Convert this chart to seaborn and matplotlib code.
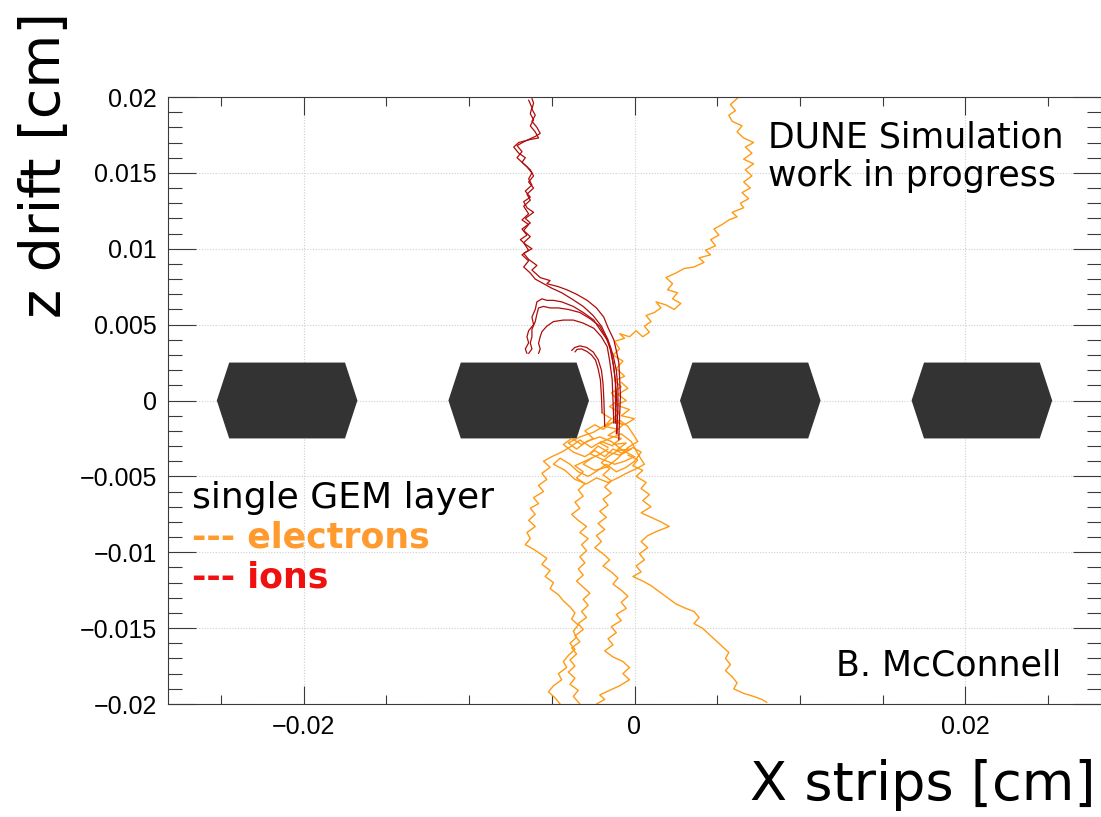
import numpy as np
import pandas as pd
import matplotlib
matplotlib.use("Agg")
import matplotlib.pyplot as plt
import seaborn as sns

# ---------------- data ----------------
X_LIM = (-0.0282, 0.0282)
Y_LIM = (-0.02, 0.02)
X_LABEL_TICKS = [-0.02, 0.0, 0.02]
X_LABELS = ["\u22120.02", "0", "0.02"]
Y_LABEL_TICKS = [-0.02, -0.015, -0.01, -0.005, 0.0, 0.005, 0.01, 0.015, 0.02]
Y_LABELS = ["\u22120.02", "\u22120.015", "\u22120.01", "\u22120.005", "0",
            "0.005", "0.01", "0.015", "0.02"]

# GEM copper/kapton cross-sections (cm)
GEM_CENTERS = [-0.021, -0.007, 0.007, 0.021]
GEM_HALF_TOP = 0.0035
GEM_HALF_MID = 0.00425
GEM_HALF_THICK = 0.0025

# electron drift paths (x, z) in cm
ELECTRON_UP = [(-0.0011, -0.0020), (-0.0007, -0.0016), (-0.0013, -0.0012), (-0.0009, -0.0008),
               (-0.0015, -0.0004), (-0.0010, 0.0000), (-0.0014, 0.0005), (-0.0008, 0.0009),
               (-0.0012, 0.0013), (-0.0006, 0.0016), (-0.0011, 0.0021), (-0.0007, 0.0026),
               (-0.0013, 0.0030), (-0.0009, 0.0034), (-0.0012, 0.0039), (-0.0006, 0.0041),
               (-0.0009, 0.0044), (-0.0003, 0.0042), (0.0001, 0.0046), (0.0005, 0.0042),
               (0.0009, 0.0045), (0.0006, 0.0049), (0.0010, 0.0052), (0.0007, 0.0056),
               (0.0012, 0.0058), (0.0016, 0.0061), (0.0013, 0.0065), (0.0019, 0.0063),
               (0.0024, 0.0060), (0.0028, 0.0064), (0.0023, 0.0067), (0.0026, 0.0071),
               (0.0020, 0.0073), (0.0023, 0.0077), (0.0019, 0.0081), (0.0025, 0.0084),
               (0.0030, 0.0087), (0.0036, 0.0088), (0.0042, 0.0091), (0.0039, 0.0094),
               (0.0046, 0.0096), (0.0043, 0.0099), (0.0049, 0.0102), (0.0046, 0.0106),
               (0.0051, 0.0109), (0.0048, 0.0113), (0.0053, 0.0116), (0.0057, 0.0119),
               (0.0062, 0.0121), (0.0059, 0.0124), (0.0066, 0.0127), (0.0064, 0.0130),
               (0.0069, 0.0133), (0.0065, 0.0137), (0.0070, 0.0140), (0.0066, 0.0144),
               (0.0071, 0.0148), (0.0067, 0.0152), (0.0072, 0.0156), (0.0066, 0.0159),
               (0.0071, 0.0163), (0.0067, 0.0167), (0.0072, 0.0170), (0.0066, 0.0173),
               (0.0062, 0.0177), (0.0065, 0.0181), (0.0059, 0.0184), (0.0057, 0.0188),
               (0.0061, 0.0191), (0.0058, 0.0195), (0.0063, 0.0200)]

ELECTRON_LEFT = [(-0.0013, -0.0030), (-0.0020, -0.0027), (-0.0026, -0.0031), (-0.0033, -0.0026),
                 (-0.0038, -0.0030), (-0.0044, -0.0034), (-0.0050, -0.0037), (-0.0055, -0.0040),
                 (-0.0051, -0.0044), (-0.0056, -0.0048), (-0.0053, -0.0052), (-0.0058, -0.0056),
                 (-0.0055, -0.0060), (-0.0061, -0.0064), (-0.0058, -0.0068), (-0.0063, -0.0071),
                 (-0.0060, -0.0075), (-0.0064, -0.0079), (-0.0060, -0.0083), (-0.0065, -0.0087),
                 (-0.0063, -0.0091), (-0.0066, -0.0095), (-0.0061, -0.0098), (-0.0057, -0.0101),
                 (-0.0053, -0.0104), (-0.0056, -0.0108), (-0.0051, -0.0112), (-0.0054, -0.0116),
                 (-0.0049, -0.0120), (-0.0051, -0.0124), (-0.0046, -0.0128), (-0.0043, -0.0132),
                 (-0.0039, -0.0136), (-0.0036, -0.0140), (-0.0038, -0.0144), (-0.0034, -0.0148),
                 (-0.0037, -0.0152), (-0.0035, -0.0156), (-0.0039, -0.0160), (-0.0036, -0.0164),
                 (-0.0040, -0.0168), (-0.0043, -0.0172), (-0.0041, -0.0176), (-0.0046, -0.0180),
                 (-0.0044, -0.0184), (-0.0049, -0.0188), (-0.0052, -0.0192), (-0.0048, -0.0196),
                 (-0.0045, -0.0200)]

ELECTRON_MIDLEFT = [(-0.0016, -0.0032), (-0.0022, -0.0036), (-0.0030, -0.0040), (-0.0036, -0.0043),
                    (-0.0031, -0.0047), (-0.0035, -0.0051), (-0.0030, -0.0055), (-0.0034, -0.0059),
                    (-0.0031, -0.0063), (-0.0036, -0.0067), (-0.0033, -0.0071), (-0.0038, -0.0075),
                    (-0.0034, -0.0079), (-0.0029, -0.0083), (-0.0033, -0.0087), (-0.0028, -0.0091),
                    (-0.0032, -0.0095), (-0.0029, -0.0099), (-0.0033, -0.0103), (-0.0030, -0.0107),
                    (-0.0034, -0.0111), (-0.0031, -0.0115), (-0.0035, -0.0119), (-0.0031, -0.0123),
                    (-0.0027, -0.0127), (-0.0031, -0.0131), (-0.0028, -0.0135), (-0.0032, -0.0139),
                    (-0.0029, -0.0143), (-0.0034, -0.0147), (-0.0031, -0.0151), (-0.0036, -0.0155),
                    (-0.0033, -0.0159), (-0.0038, -0.0163), (-0.0035, -0.0167), (-0.0039, -0.0171),
                    (-0.0036, -0.0175), (-0.0040, -0.0179), (-0.0036, -0.0183), (-0.0039, -0.0187),
                    (-0.0034, -0.0191), (-0.0037, -0.0195), (-0.0033, -0.0200)]

ELECTRON_MIDRIGHT = [(-0.0010, -0.0033), (-0.0016, -0.0037), (-0.0020, -0.0041), (-0.0015, -0.0045),
                     (-0.0019, -0.0049), (-0.0014, -0.0053), (-0.0018, -0.0057), (-0.0014, -0.0061),
                     (-0.0019, -0.0065), (-0.0016, -0.0069), (-0.0021, -0.0073), (-0.0017, -0.0077),
                     (-0.0022, -0.0081), (-0.0018, -0.0085), (-0.0023, -0.0089), (-0.0020, -0.0093),
                     (-0.0024, -0.0097), (-0.0019, -0.0101), (-0.0015, -0.0105), (-0.0019, -0.0109),
                     (-0.0014, -0.0113), (-0.0010, -0.0117), (-0.0013, -0.0121), (-0.0008, -0.0125),
                     (-0.0004, -0.0129), (-0.0008, -0.0133), (-0.0005, -0.0137), (-0.0011, -0.0141),
                     (-0.0008, -0.0145), (-0.0014, -0.0149), (-0.0011, -0.0153), (-0.0016, -0.0157),
                     (-0.0013, -0.0161), (-0.0018, -0.0165), (-0.0013, -0.0169), (-0.0007, -0.0172),
                     (-0.0003, -0.0176), (-0.0007, -0.0180), (-0.0003, -0.0184), (-0.0009, -0.0188),
                     (-0.0015, -0.0191), (-0.0021, -0.0194), (-0.0018, -0.0197), (-0.0023, -0.0200)]

ELECTRON_RIGHT = [(-0.0004, -0.0036), (0.0002, -0.0039), (-0.0001, -0.0043), (0.0005, -0.0046),
                  (0.0001, -0.0050), (0.0007, -0.0054), (0.0004, -0.0058), (0.0009, -0.0062),
                  (0.0005, -0.0066), (0.0010, -0.0070), (0.0004, -0.0074), (0.0010, -0.0077),
                  (0.0016, -0.0080), (0.0021, -0.0083), (0.0014, -0.0086), (0.0008, -0.0089),
                  (0.0004, -0.0093), (0.0008, -0.0097), (0.0003, -0.0101), (0.0006, -0.0105),
                  (0.0001, -0.0109), (0.0004, -0.0113), (-0.0001, -0.0116), (0.0005, -0.0119),
                  (0.0010, -0.0122), (0.0015, -0.0126), (0.0020, -0.0130), (0.0025, -0.0134),
                  (0.0031, -0.0137), (0.0036, -0.0139), (0.0039, -0.0143), (0.0036, -0.0147),
                  (0.0041, -0.0150), (0.0045, -0.0154), (0.0049, -0.0158), (0.0053, -0.0162),
                  (0.0057, -0.0166), (0.0055, -0.0170), (0.0058, -0.0174), (0.0055, -0.0178),
                  (0.0059, -0.0182), (0.0062, -0.0186), (0.0060, -0.0190), (0.0066, -0.0193),
                  (0.0072, -0.0195), (0.0077, -0.0197), (0.0080, -0.0199)]

ELECTRON_CLUSTER = [(-0.0020, -0.0008), (-0.0014, -0.0012), (-0.0018, -0.0017), (-0.0010, -0.0019),
                    (-0.0016, -0.0023), (-0.0008, -0.0025), (-0.0013, -0.0029), (-0.0005, -0.0028),
                    (-0.0011, -0.0033), (-0.0002, -0.0032), (-0.0009, -0.0036), (-0.0016, -0.0034),
                    (-0.0022, -0.0030), (-0.0027, -0.0035), (-0.0019, -0.0039), (-0.0012, -0.0042),
                    (-0.0006, -0.0040), (0.0000, -0.0037), (-0.0007, -0.0033), (-0.0014, -0.0027),
                    (-0.0021, -0.0024), (-0.0029, -0.0027), (-0.0035, -0.0032), (-0.0040, -0.0028),
                    (-0.0033, -0.0024), (-0.0025, -0.0021), (-0.0017, -0.0016), (-0.0009, -0.0013),
                    (-0.0004, -0.0017), (-0.0001, -0.0022), (0.0002, -0.0027), (-0.0004, -0.0031),
                    (-0.0010, -0.0038), (-0.0017, -0.0044), (-0.0024, -0.0046), (-0.0031, -0.0042),
                    (-0.0026, -0.0038)]

ELECTRON_CLUSTER_2 = [(-0.0008, 0.0012), (-0.0004, 0.0008), (-0.0010, 0.0004), (-0.0005, 0.0000),
                      (-0.0011, -0.0003), (-0.0003, -0.0006), (-0.0008, -0.0010), (0.0000, -0.0012),
                      (-0.0006, -0.0016), (-0.0013, -0.0014), (-0.0019, -0.0019), (-0.0024, -0.0016),
                      (-0.0030, -0.0020), (-0.0025, -0.0025), (-0.0032, -0.0029), (-0.0038, -0.0025),
                      (-0.0043, -0.0029), (-0.0037, -0.0034), (-0.0030, -0.0037), (-0.0024, -0.0033),
                      (-0.0018, -0.0037), (-0.0013, -0.0032), (-0.0007, -0.0035), (-0.0001, -0.0031),
                      (0.0004, -0.0034), (0.0000, -0.0040), (-0.0005, -0.0044), (-0.0011, -0.0047),
                      (-0.0017, -0.0042), (-0.0022, -0.0046), (-0.0028, -0.0050), (-0.0034, -0.0047),
                      (-0.0039, -0.0042), (-0.0045, -0.0038), (-0.0049, -0.0042), (-0.0042, -0.0046),
                      (-0.0036, -0.0052), (-0.0029, -0.0055), (-0.0023, -0.0051), (-0.0016, -0.0054),
                      (-0.0010, -0.0051), (-0.0005, -0.0048), (0.0001, -0.0045), (0.0006, -0.0042),
                      (0.0003, -0.0037), (-0.0002, -0.0027), (-0.0008, -0.0022), (-0.0015, -0.0025),
                      (-0.0021, -0.0028), (-0.0016, -0.0031)]

# ion drift paths (x, z) in cm
ION_LONG_A = [(-0.00095, -0.0026), (-0.0009, -0.0010), (-0.00085, 0.0003), (-0.0009, 0.0015),
              (-0.00095, 0.0025), (-0.0011, 0.0033), (-0.00125, 0.0040), (-0.0016, 0.0048),
              (-0.00186, 0.0055), (-0.0023, 0.0061), (-0.00286, 0.0066), (-0.0035, 0.0070),
              (-0.0041, 0.0073), (-0.0046, 0.0075), (-0.0053, 0.0077), (-0.0051, 0.0079),
              (-0.0057, 0.0081), (-0.0062, 0.0086), (-0.0059, 0.0089), (-0.0064, 0.0093),
              (-0.0067, 0.0097), (-0.0062, 0.0100), (-0.0066, 0.0103), (-0.0069, 0.0106),
              (-0.0065, 0.0109), (-0.0068, 0.0113), (-0.0063, 0.0117), (-0.0066, 0.0120),
              (-0.0061, 0.0124), (-0.0065, 0.0127), (-0.0067, 0.0131), (-0.0063, 0.0134),
              (-0.0066, 0.0138), (-0.0062, 0.0142), (-0.0064, 0.0146), (-0.0062, 0.0150),
              (-0.0065, 0.0154), (-0.0068, 0.0157), (-0.0066, 0.0160), (-0.0070, 0.0163),
              (-0.0073, 0.0167), (-0.0070, 0.0170), (-0.0063, 0.0172), (-0.0058, 0.0173),
              (-0.0060, 0.0177), (-0.0063, 0.0181), (-0.0061, 0.0185), (-0.0063, 0.0189),
              (-0.0062, 0.0193), (-0.0064, 0.0198)]

ION_LONG_B = [(-0.0011, -0.0022), (-0.0010, -0.0006), (-0.0010, 0.0008), (-0.0011, 0.0020),
              (-0.0013, 0.0030), (-0.0016, 0.0040), (-0.0020, 0.0049), (-0.0025, 0.0056),
              (-0.0031, 0.0062), (-0.0038, 0.0067), (-0.0044, 0.0071), (-0.0050, 0.0074),
              (-0.0055, 0.0077), (-0.0060, 0.0080), (-0.0063, 0.0084), (-0.0067, 0.0088),
              (-0.0064, 0.0092), (-0.0068, 0.0096), (-0.0064, 0.0099), (-0.0067, 0.0104),
              (-0.0063, 0.0108), (-0.0067, 0.0112), (-0.0064, 0.0116), (-0.0068, 0.0119),
              (-0.0064, 0.0123), (-0.0067, 0.0128), (-0.0063, 0.0132), (-0.0065, 0.0136),
              (-0.0061, 0.0140), (-0.0064, 0.0144), (-0.0061, 0.0148), (-0.0063, 0.0152),
              (-0.0067, 0.0156), (-0.0071, 0.0160), (-0.0068, 0.0164), (-0.0071, 0.0168),
              (-0.0066, 0.0171), (-0.0060, 0.0174), (-0.0057, 0.0176), (-0.0059, 0.0180),
              (-0.0062, 0.0184), (-0.0060, 0.0188), (-0.0062, 0.0192), (-0.0061, 0.0196),
              (-0.0062, 0.0199)]

ION_CURL_1 = [(-0.00105, -0.0022), (-0.00105, -0.0008), (-0.0011, 0.0006), (-0.00125, 0.0022),
              (-0.00145, 0.0033), (-0.00165, 0.0040), (-0.0021, 0.0047), (-0.00246, 0.0053),
              (-0.0031, 0.0058), (-0.0037, 0.0062), (-0.0044, 0.0065), (-0.0049, 0.0066),
              (-0.0053, 0.0066), (-0.0056, 0.0067), (-0.0059, 0.0065), (-0.0060, 0.0060),
              (-0.0062, 0.0055), (-0.0061, 0.0050), (-0.0064, 0.0046), (-0.0065, 0.0042),
              (-0.0064, 0.0038), (-0.0066, 0.0034), (-0.0065, 0.0031)]

ION_CURL_2 = [(-0.00115, -0.0015), (-0.00115, 0.0000), (-0.00115, 0.0013), (-0.0013, 0.0025),
              (-0.00145, 0.0035), (-0.0018, 0.0043), (-0.0021, 0.0049), (-0.0027, 0.0054),
              (-0.0033, 0.0058), (-0.0040, 0.0060), (-0.0046, 0.0061), (-0.0051, 0.0061),
              (-0.0055, 0.0062), (-0.0058, 0.0061), (-0.0059, 0.0057), (-0.0060, 0.0052),
              (-0.0062, 0.0047), (-0.0062, 0.0042), (-0.0063, 0.0038), (-0.0062, 0.0034),
              (-0.0064, 0.0031)]

ION_CURL_3 = [(-0.00125, -0.0015), (-0.0013, 0.0000), (-0.00135, 0.0014), (-0.0015, 0.0026),
              (-0.00165, 0.00355), (-0.0020, 0.0042), (-0.00246, 0.00476), (-0.0031, 0.0051),
              (-0.0037, 0.0053), (-0.0043, 0.0053), (-0.0049, 0.0052), (-0.0053, 0.0049),
              (-0.0056, 0.00453), (-0.0057, 0.0042), (-0.0058, 0.00377), (-0.0057, 0.0034),
              (-0.0058, 0.0031)]

ION_SHORT_1 = [(-0.00196, -0.0008), (-0.0020, 0.0003), (-0.00206, 0.00135), (-0.0022, 0.0021),
               (-0.00236, 0.00267), (-0.0026, 0.0030), (-0.00286, 0.00322), (-0.0032, 0.0034),
               (-0.00347, 0.00337), (-0.0036, 0.0032)]

ION_SHORT_2 = [(-0.0018, -0.0017), (-0.00185, 0.0000), (-0.0019, 0.0011), (-0.0020, 0.0020),
               (-0.0022, 0.0027), (-0.0025, 0.0032), (-0.0029, 0.0035), (-0.0033, 0.0036),
               (-0.0036, 0.0035), (-0.0038, 0.0033)]

ELECTRON_TRACKS = [ELECTRON_UP, ELECTRON_LEFT, ELECTRON_MIDLEFT, ELECTRON_MIDRIGHT,
                   ELECTRON_RIGHT, ELECTRON_CLUSTER, ELECTRON_CLUSTER_2]
ION_TRACKS = [ION_LONG_A, ION_LONG_B, ION_CURL_1, ION_CURL_2, ION_CURL_3,
              ION_SHORT_1, ION_SHORT_2]

# ---------------- styling ----------------
W, H, DPI = 1101, 817, 100
C_ELECTRON = "#FF9A14"
C_ION = "#B00A0A"
C_GEM = "#333333"
C_FRAME = "#3a3a3a"

sns.set_theme(style="white")
plt.rcParams["font.family"] = ["Liberation Sans", "DejaVu Sans"]
plt.rcParams["axes.unicode_minus"] = True


def build_frame(tracks, species):
    rows = []
    for i, tr in enumerate(tracks):
        arr = np.asarray(tr)
        rows.append(pd.DataFrame({"x": arr[:, 0], "z": arr[:, 1],
                                  "track": f"{species}{i}", "species": species}))
    return pd.concat(rows, ignore_index=True)


df_e = build_frame(ELECTRON_TRACKS, "e")
df_i = build_frame(ION_TRACKS, "ion")

fig = plt.figure(figsize=(W / DPI, H / DPI), dpi=DPI)
ax = fig.add_axes([168 / W, (H - 704) / H, (W - 168) / W, (704 - 97) / H])
ax.set_xlim(*X_LIM)
ax.set_ylim(*Y_LIM)

# grid
for xv in X_LABEL_TICKS:
    ax.axvline(xv, color="#cfcfcf", lw=0.8, ls=(0, (1, 1.5)), zorder=0)
for yv in Y_LABEL_TICKS:
    ax.axhline(yv, color="#cfcfcf", lw=0.8, ls=(0, (1, 1.5)), zorder=0)

# GEM cross-sections
for c in GEM_CENTERS:
    px = [c - GEM_HALF_MID, c - GEM_HALF_TOP, c + GEM_HALF_TOP, c + GEM_HALF_MID,
          c + GEM_HALF_TOP, c - GEM_HALF_TOP]
    pz = [0, GEM_HALF_THICK, GEM_HALF_THICK, 0, -GEM_HALF_THICK, -GEM_HALF_THICK]
    ax.fill(px, pz, color=C_GEM, lw=0, zorder=1)

sns.lineplot(data=df_e, x="x", y="z", units="track", estimator=None, sort=False,
             color=C_ELECTRON, lw=1.0, ax=ax, legend=False, zorder=2)
sns.lineplot(data=df_i, x="x", y="z", units="track", estimator=None, sort=False,
             color=C_ION, lw=0.9, ax=ax, legend=False, zorder=3)

# ticks
ax.set_xticks(X_LABEL_TICKS)
ax.set_xticklabels(X_LABELS)
ax.set_xticks(np.arange(-0.025, 0.0251, 0.005), minor=True)
ax.set_yticks(Y_LABEL_TICKS)
ax.set_yticklabels(Y_LABELS)
ax.set_yticks(np.arange(-0.02, 0.02001, 0.001), minor=True)
ax.tick_params(axis="x", which="major", direction="in", length=13, width=0.8,
               color=C_FRAME, top=True, bottom=True, labelsize=18, pad=8,
               labelcolor="black")
ax.tick_params(axis="x", which="minor", direction="in", length=6.5, width=0.8,
               color=C_FRAME, top=True, bottom=True)
ax.tick_params(axis="y", which="major", direction="in", length=20, width=0.8,
               color=C_FRAME, left=True, right=True, labelsize=18, pad=8,
               labelcolor="black")
ax.tick_params(axis="y", which="minor", direction="in", length=10, width=0.8,
               color=C_FRAME, left=True, right=True)
ax.set_xlabel("")
ax.set_ylabel("")
for s in ax.spines.values():
    s.set_color(C_FRAME)
    s.set_linewidth(0.8)

# texts
HAND = ["DejaVu Sans"]


def fx(px):
    return px / W


def fy(py):
    return 1 - py / H


fig.text(fx(1096), fy(800), "X strips [cm]", ha="right", va="baseline",
         fontsize=39, family=HAND, color="black")
fig.text(fx(45), fy(12), "z drift [cm]", ha="center", va="top", rotation=90,
         fontsize=40, family=HAND, color="black")
fig.text(fx(768), fy(148), "DUNE Simulation", ha="left", va="baseline",
         fontsize=25, family=HAND, color="black")
fig.text(fx(768), fy(186), "work in progress", ha="left", va="baseline",
         fontsize=25, family=HAND, color="black")
fig.text(fx(836), fy(676), "B. McConnell", ha="left", va="baseline",
         fontsize=25, family=HAND, color="black")
fig.text(fx(192), fy(508), "single GEM layer", ha="left", va="baseline",
         fontsize=26, family=HAND, color="black")
fig.text(fx(192), fy(548), "--- electrons", ha="left", va="baseline",
         fontsize=25, family=HAND, color="#FF9A2E", weight="bold")
fig.text(fx(192), fy(588), "--- ions", ha="left", va="baseline",
         fontsize=25, family=HAND, color="#F01010", weight="bold")

fig.savefig("out.png", dpi=DPI)
